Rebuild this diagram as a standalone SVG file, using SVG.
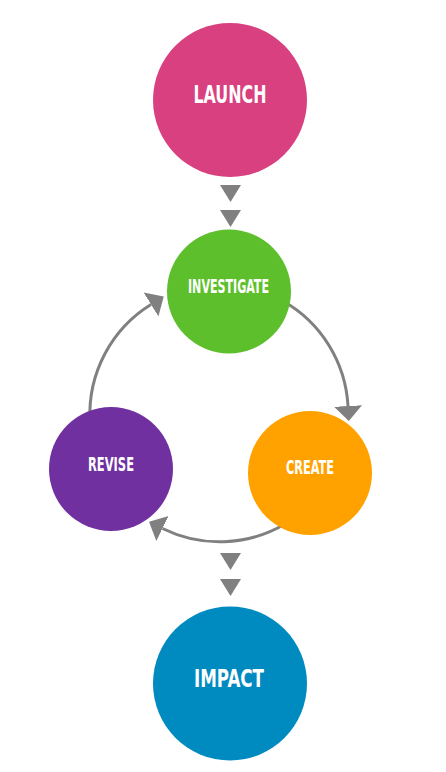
<svg xmlns="http://www.w3.org/2000/svg" width="446" height="772" viewBox="0 0 446 772">
<style>
.lbl{font-family:"Liberation Sans Narrow","DejaVu Sans Condensed","Liberation Sans",sans-serif;font-weight:bold;fill:#ffffff;text-anchor:middle}
.big{font-size:25px}
.small{font-size:19px}
.arc{fill:none;stroke:#808080;stroke-width:3}
.tri{fill:#808080}
</style>
<defs>
<marker id="ah" markerUnits="userSpaceOnUse" markerWidth="16" markerHeight="30" viewBox="0 -15 16 30" refX="0" refY="0" orient="auto">
<path d="M0,-14 L15,0 L0,14 Z" fill="#808080"/>
</marker>
</defs>
<rect width="446" height="772" fill="#ffffff"/>
<g id="connectors">
<polygon class="tri" points="220,185 241,185 230.5,202"/>
<polygon class="tri" points="220,210 241,210 230.5,227"/>
<polygon class="tri" points="220,553 241,553 230.5,570"/>
<polygon class="tri" points="220,579 241,579 230.5,596"/>
<path class="arc" d="M283,301 A129,129 0 0 1 348,406" marker-end="url(#ah)"/>
<path class="arc" d="M285,524 A129,129 0 0 1 162.5,528.5" marker-end="url(#ah)"/>
<path class="arc" d="M90,420 A129,129 0 0 1 151,304.5" marker-end="url(#ah)"/>
</g>
<g id="launch">
<circle cx="230" cy="100" r="77" fill="#D94080"/>
<text class="lbl big" x="230" y="103" textLength="73" lengthAdjust="spacingAndGlyphs">LAUNCH</text>
</g>
<g id="investigate">
<circle cx="229" cy="291.5" r="62" fill="#5EBF2D"/>
<text class="lbl small" x="228.5" y="293" textLength="81" lengthAdjust="spacingAndGlyphs">INVESTIGATE</text>
</g>
<g id="create">
<circle cx="310" cy="473" r="62" fill="#FFA200"/>
<text class="lbl small" x="310" y="474" textLength="48" lengthAdjust="spacingAndGlyphs">CREATE</text>
</g>
<g id="revise">
<circle cx="111" cy="469" r="62" fill="#7030A0"/>
<text class="lbl small" x="111" y="471" textLength="46" lengthAdjust="spacingAndGlyphs">REVISE</text>
</g>
<g id="impact">
<circle cx="230" cy="683.5" r="77" fill="#008BC0"/>
<text class="lbl big" x="229" y="687" textLength="70" lengthAdjust="spacingAndGlyphs">IMPACT</text>
</g>
</svg>
